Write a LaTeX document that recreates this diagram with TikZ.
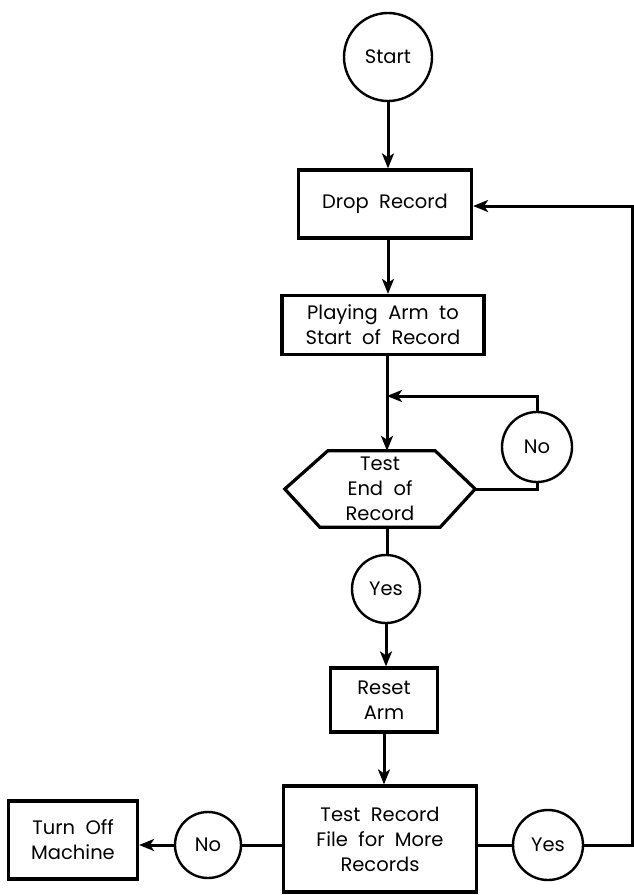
\documentclass[tikz,border=0pt]{standalone}
\usepackage{fontspec}
\setmainfont{Poppins}
\usetikzlibrary{arrows.meta}
\begin{document}
\begin{tikzpicture}[x=1pt,y=-1pt,
  every node/.style={font=\fontsize{19.5}{25}\selectfont, align=center, inner sep=0pt},
  box/.style={draw, line width=3.2pt},
  circ/.style={draw, circle, line width=2.4pt},
  conn/.style={line width=3pt},
  arr/.style={conn, -{Stealth[length=15pt,width=12pt,inset=4pt]}}]
\useasboundingbox (0,0) rectangle (634,895);
% nodes
\node[circ, minimum size=88pt] (start) at (388,57) {Start};
\node[box, minimum width=173pt, minimum height=68pt] (drop) at (385,204) {Drop\ \ Record};
\node[box, minimum width=202pt, minimum height=59pt] (play) at (383,325) {Playing\ \ Arm\ \ to\\Start\ \ of\ \ Record};
\node[minimum width=190pt, minimum height=76pt] (hex) at (380,489) {Test\\End\ \ of\\Record};
\node[circ, minimum size=70pt] (no1) at (537,447) {No};
\node[circ, minimum size=68pt] (yes1) at (386,589) {Yes};
\node[box, minimum width=107pt, minimum height=64pt] (reset) at (384,700) {Reset\\Arm};
\node[box, minimum width=193pt, minimum height=106pt] (testrec) at (380,839) {Test\ \ Record\\File\ \ for\ \ More\\Records};
\node[circ, minimum size=66pt] (no2) at (208,845) {No};
\node[box, minimum width=129pt, minimum height=78pt] (turnoff) at (73,840) {Turn\ \ Off\\Machine};
\node[circ, minimum size=70pt] (yes2) at (548,845) {Yes};
% hexagon outline
\draw[box, line join=miter] (hex.west) -- ([xshift=43pt]hex.north west) -- ([xshift=-40pt]hex.north east)
  -- (hex.east) -- ([xshift=-35pt]hex.south east) -- ([xshift=35pt]hex.south west) -- cycle;
% coordinates
\coordinate (loopL) at (387,396);
\coordinate (rc) at (632,845);
\coordinate (rt) at (632,206);
% connectors
\draw[arr] (start.south) -- (start.south |- drop.north);
\draw[arr] (drop.south -| start.south) -- (start.south |- play.north);
\draw[arr] (play.south -| loopL) -- (loopL |- hex.north);
\draw[arr] (no1.north) |- (loopL);
\draw[conn] (hex.east) -| (no1.south);
\draw[conn] (hex.south -| loopL) -- (loopL |- yes1.north);
\draw[arr] (yes1.south) -- (yes1.south |- reset.north);
\draw[arr] (reset.south) -- (reset.south |- testrec.north);
\draw[conn] (no2.east) -- (no2.east -| testrec.west);
\draw[arr] (no2.west) -- (no2.west -| turnoff.east);
\draw[conn] (yes2.west -| testrec.east) -- (yes2.west);
\draw[arr, line join=miter] (yes2.east) -- (rc) -- (rt) -- (rt -| drop.east);
\end{tikzpicture}
\end{document}
